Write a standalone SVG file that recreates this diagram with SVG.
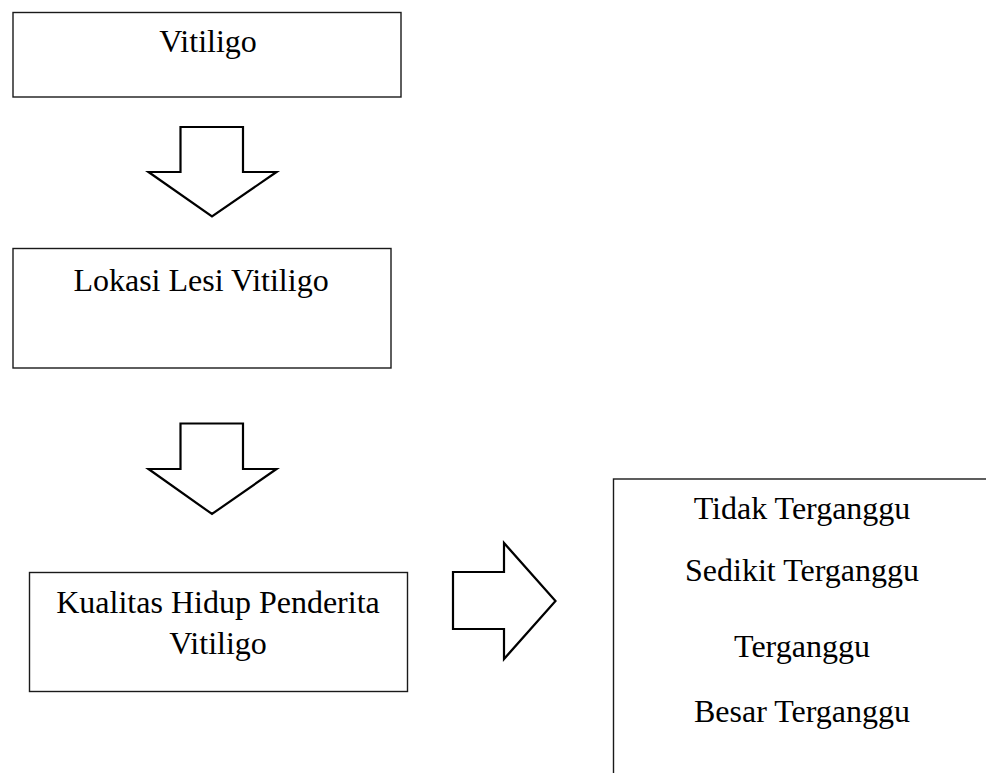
<svg xmlns="http://www.w3.org/2000/svg" width="986" height="773" viewBox="0 0 986 773">
<style>
.box{fill:#fff;stroke:#1a1a1a;stroke-width:1.4}
.arr{fill:#fff;stroke:#000;stroke-width:2.2;stroke-linejoin:miter}
.t{font-family:"Liberation Serif","Times New Roman",serif;font-size:32px;fill:#000;text-anchor:middle}
</style>
<rect width="986" height="773" fill="#fff"/>
<g id="node-vitiligo">
<rect class="box" x="13" y="12.5" width="388" height="84.5"/>
<text class="t" x="208" y="52">Vitiligo</text>
</g>
<g id="node-lokasi">
<rect class="box" x="13" y="248.5" width="378" height="119.5"/>
<text class="t" x="201" y="291">Lokasi Lesi Vitiligo</text>
</g>
<g id="node-kualitas">
<rect class="box" x="29.5" y="572.5" width="378" height="119"/>
<text class="t" x="218" y="613">Kualitas Hidup Penderita</text>
<text class="t" x="218" y="654">Vitiligo</text>
</g>
<g id="node-kategori">
<rect class="box" x="613.5" y="479" width="420" height="400"/>
<text class="t" x="802" y="518.5">Tidak Terganggu</text>
<text class="t" x="802" y="581">Sedikit Terganggu</text>
<text class="t" x="802" y="656.5">Terganggu</text>
<text class="t" x="802" y="721.5">Besar Terganggu</text>
</g>
<g id="connectors">
<polygon class="arr" points="180.5,127 243,127 243,172 276.5,172 212,216.5 148.5,172 180.5,172"/>
<polygon class="arr" points="180.5,423.5 243,423.5 243,469 276.5,469 212,514 148.5,469 180.5,469"/>
<polygon class="arr" points="453,572 504,572 504,543 555.5,601 504,659 504,629 453,629"/>
</g>
</svg>
